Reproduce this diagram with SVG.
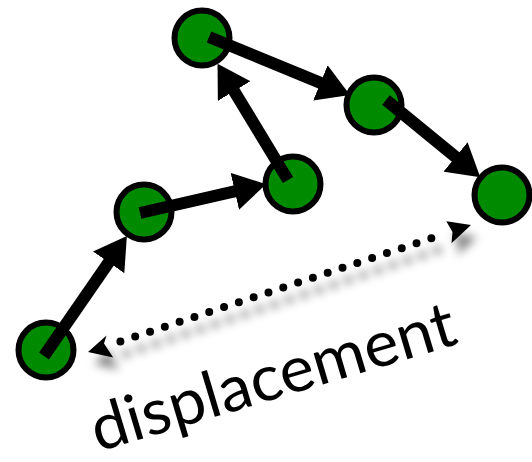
<svg xmlns="http://www.w3.org/2000/svg" width="532" height="462" viewBox="0 0 532 462">
  <style>
    .node { fill: #008a00; stroke: #000; stroke-width: 6; }
    .step { fill: none; stroke: #000; stroke-width: 12; stroke-linecap: butt; marker-end: url(#head); }
    .dots { fill: none; stroke: #000; stroke-width: 8; stroke-linecap: round; stroke-dasharray: 0 15.6; }
    .label { font-family: 'Lato', 'Liberation Sans', sans-serif; font-size: 64px; fill: #000; }
  </style>
  <defs>
    <marker id="head" markerUnits="userSpaceOnUse" viewBox="0 0 32 38" markerWidth="32" markerHeight="38" refX="12" refY="19" orient="auto">
      <path d="M0,0 L32,19 L0,38 z" fill="#000"/>
    </marker>
    <filter id="shadow" x="-20%" y="-50%" width="140%" height="200%">
      <feGaussianBlur in="SourceAlpha" stdDeviation="5"/>
      <feOffset dx="6" dy="12" result="blur"/>
      <feComponentTransfer in="blur" result="soft">
        <feFuncA type="linear" slope="0.5"/>
      </feComponentTransfer>
      <feMerge>
        <feMergeNode in="soft"/>
        <feMergeNode in="SourceGraphic"/>
      </feMerge>
    </filter>
  </defs>

  <!-- path nodes -->
  <g id="n1"><circle class="node" cx="46" cy="350" r="27.5"/></g>
  <g id="n2"><circle class="node" cx="144" cy="212" r="27.5"/></g>
  <g id="n3"><circle class="node" cx="293" cy="184" r="27.5"/></g>
  <g id="n4"><circle class="node" cx="202" cy="38" r="27.5"/></g>
  <g id="n5"><circle class="node" cx="374" cy="105" r="27.5"/></g>
  <g id="n6"><circle class="node" cx="502" cy="195" r="27.5"/></g>

  <!-- steps between nodes, then the net displacement -->
  <g id="connectors">
    <path class="step" d="M44,356 L115.5,252.5"/>
    <path class="step" d="M140,213 L246.5,188.6"/>
    <path class="step" d="M288,180 L227.9,80.8"/>
    <path class="step" d="M209,37 L331.5,87.4"/>
    <path class="step" d="M386,100 L464.8,164.5"/>

    <g id="displacement" filter="url(#shadow)">
      <path class="dots" d="M120.4,341.5 L446,233.5"/>
      <path d="M88,352 L106.5,335.4 L104,343.5 L113.2,357.5 z" fill="#000"/>
      <path d="M471,225 L446.3,221.2 L452.5,232 L451.5,243.3 z" fill="#000"/>
    </g>
  </g>

  <text class="label" font-family="Lato" transform="translate(98,452) rotate(-16.7)" textLength="378" lengthAdjust="spacingAndGlyphs">displacement</text>
</svg>
